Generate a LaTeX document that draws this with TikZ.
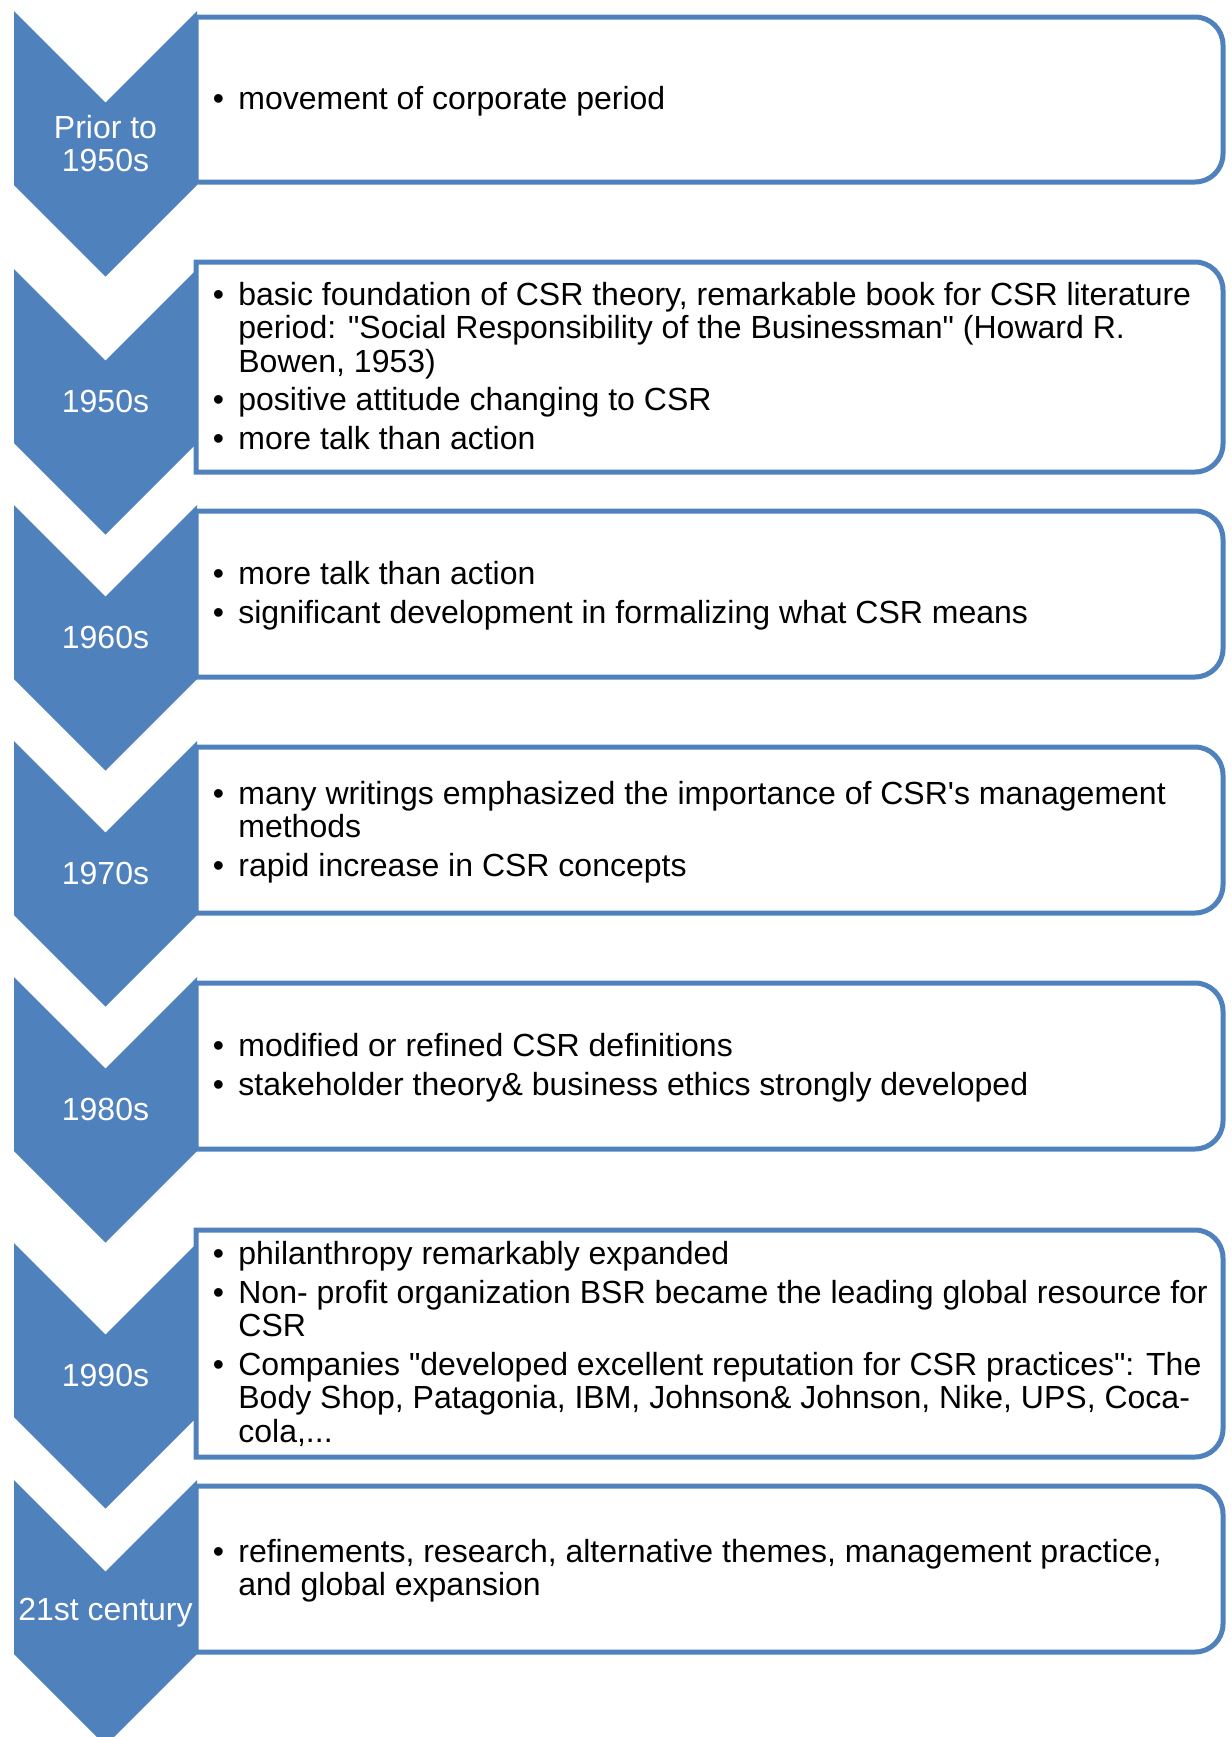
\documentclass[tikz,border=0pt]{standalone}
\usepackage{fontspec}
\setmainfont{Liberation Sans}[Ligatures=TeXOff]
\definecolor{csrblue}{RGB}{79,129,189}

% one chevron: #1 = y of its top edge
\newcommand{\eraChevron}[1]{%
  \fill[chev] (14,#1) -- (105.5,{#1+91.5}) -- (197,#1) -- (197,{#1+174})
    -- (105.5,{#1+265.5}) -- (14,{#1+174}) -- cycle;}
% one text panel, square on the left, rounded on the right: #1 = top, #2 = bottom
\newcommand{\eraPanel}[2]{%
  \draw[panel] (196,#2) -- (196,#1) [rounded corners=14pt] -- (1223,#1)
    -- (1223,#2) [sharp corners] -- cycle;}
\newenvironment{bulletlist}{\begin{tabular}{@{}p{12.8pt}@{}l@{}}}{\end{tabular}}

\begin{document}
\begin{tikzpicture}[
  x=0.5pt, y=-0.5pt,
  chev/.style={fill=csrblue, draw=none},
  panel/.style={draw=csrblue, line width=2.5pt, fill=white},
  era/.style={text=white, align=center, inner sep=0pt,
              font=\fontsize{16}{16.5}\selectfont},
  notes/.style={anchor=west, inner sep=0pt,
                font=\fontsize{16}{16.75}\selectfont}]
\useasboundingbox (0,0) rectangle (1232,1737);
\clip (0,0) rectangle (1232,1737);

% chevrons
\eraChevron{11}
\eraChevron{269}
\eraChevron{505}
\eraChevron{741}
\eraChevron{977}
\eraChevron{1243}
\eraChevron{1480}

% panels
\eraPanel{17}{182}
\eraPanel{262}{472}
\eraPanel{511}{677}
\eraPanel{747}{913}
\eraPanel{983}{1149}
\eraPanel{1230}{1457}
\eraPanel{1486}{1652}

% period labels
\node[era] (e1) at (105.5,143.5) {Prior to\\1950s};
\node[era] (e2) at (105.5,401.5) {1950s};
\node[era] (e3) at (105.5,637.5) {1960s};
\node[era] (e4) at (105.5,873.5) {1970s};
\node[era] (e5) at (105.5,1109.5) {1980s};
\node[era] (e6) at (105.5,1375.5) {1990s};
\node[era] (e7) at (105.5,1612.5) {21st century};

% notes
\node[notes] (n1) at (212.4,103) {\begin{bulletlist}
\textbullet & movement of corporate period
\end{bulletlist}};

\node[notes] (n2) at (212.4,370.5) {\begin{bulletlist}
\textbullet & basic foundation of CSR theory, remarkable book for CSR literature\\
 & period: "Social Responsibility of the Businessman" (Howard R.\\
 & Bowen, 1953)\\[2.5pt]
\textbullet & positive attitude changing to CSR\\[2.5pt]
\textbullet & more talk than action
\end{bulletlist}};

\node[notes] (n3) at (212.4,597.5) {\begin{bulletlist}
\textbullet & more talk than action\\[2.5pt]
\textbullet & significant development in formalizing what CSR means
\end{bulletlist}};

\node[notes] (n4) at (212.4,833.5) {\begin{bulletlist}
\textbullet & many writings emphasized the importance of CSR's management\\
 & methods\\[2.5pt]
\textbullet & rapid increase in CSR concepts
\end{bulletlist}};

\node[notes] (n5) at (212.4,1069.5) {\begin{bulletlist}
\textbullet & modified or refined CSR definitions\\[2.5pt]
\textbullet & stakeholder theory\& business ethics strongly developed
\end{bulletlist}};

\node[notes] (n6) at (212.4,1347) {\begin{bulletlist}
\textbullet & philanthropy remarkably expanded\\[2.5pt]
\textbullet & Non- profit organization BSR became the leading global resource for\\
 & CSR\\[2.5pt]
\textbullet & Companies "developed excellent reputation for CSR practices": The\\
 & Body Shop, Patagonia, IBM, Johnson\& Johnson, Nike, UPS, Coca-\\
 & cola,...
\end{bulletlist}};

\node[notes] (n7) at (212.4,1572.5) {\begin{bulletlist}
\textbullet & refinements, research, alternative themes, management practice,\\
 & and global expansion
\end{bulletlist}};
\end{tikzpicture}
\end{document}
